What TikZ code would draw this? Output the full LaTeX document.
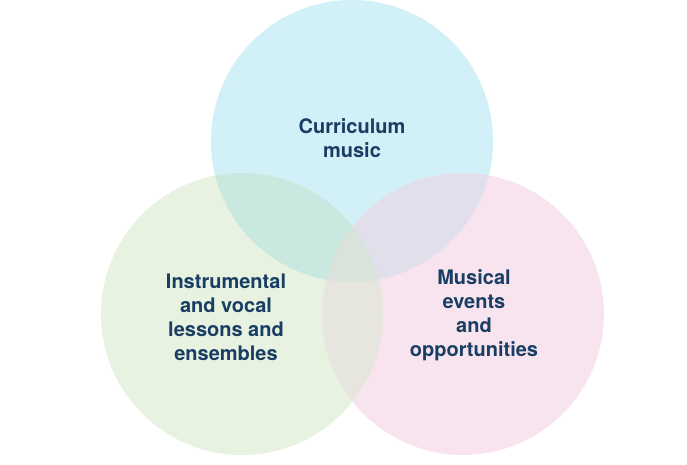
\documentclass[tikz,border=0pt]{standalone}
\usepackage{fontspec}
\setmainfont{TeX Gyre Heros}
\definecolor{vennblue}{HTML}{D1F0F7}
\definecolor{venngreen}{HTML}{E7F2E1}
\definecolor{vennpink}{HTML}{F8E4EF}
\definecolor{venntl}{HTML}{C9E8DF}
\definecolor{venntr}{HTML}{E1DFEB}
\definecolor{vennlr}{HTML}{E6E5DE}
\definecolor{vennall}{HTML}{D9E3DB}
\definecolor{venntext}{HTML}{1A3D63}
\tikzset{venntitle/.style={align=center, text=venntext, font=\bfseries\fontsize{20}{24}\selectfont}}
\begin{document}
\begin{tikzpicture}[x=1pt, y=-1pt]
		\useasboundingbox (0, 0) rectangle (687, 465);
		\foreach \x/\y/\fillcol in {352/141/vennblue, 242/314/venngreen, 463/314/vennpink}{
			\fill[fill = \fillcol] (\x, \y) circle (141pt);}
		% overlaps
		\begin{scope}
		\clip (352, 141) circle (141pt);
		\fill[venntl] (242, 314) circle (141pt);
		\fill[venntr] (463, 314) circle (141pt);
		\end{scope}
		\begin{scope}
		\clip (242, 314) circle (141pt);
		\fill[vennlr] (463, 314) circle (141pt);
		\clip (352, 141) circle (141pt);
		\fill[vennall] (463, 314) circle (141pt);
		\end{scope}
		\node[venntitle] (curriculum) at (352, 138) {Curriculum\\music};
		\node[venntitle] (lessons) at (226, 317) {Instrumental\\and vocal\\lessons and\\ensembles};
		\node[venntitle] (events) at (474, 315) {Musical\\events\\and\\opportunities};
		\end{tikzpicture}
\end{document}
